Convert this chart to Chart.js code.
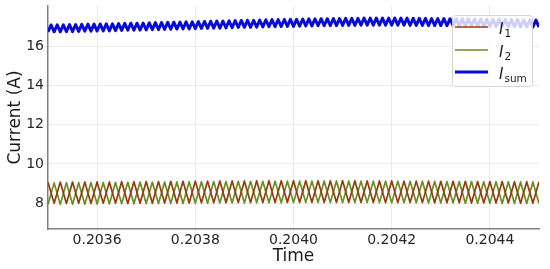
<!DOCTYPE html>
<html>
<head>
<meta charset="utf-8">
<script src="https://cdn.jsdelivr.net/npm/chart.js@4"></script>
<style>
  body { margin: 0; background: #fff; }
</style>
</head>
<body>
<canvas id="myChart" width="550" height="269"></canvas>
<script>
// time axis: seconds = t0 + microseconds * 1e-6
const t0 = 0.2035;
const xTicks = [0.2036, 0.2038, 0.2040, 0.2042, 0.2044];
const yTicks = [8, 10, 12, 14, 16];

// vertices of the phase currents (every 12.5 us)
const tPhaseUs = [
  0, 12.5, 25, 37.5, 50, 62.5, 75, 87.5,
  100, 112.5, 125, 137.5, 150, 162.5, 175, 187.5,
  200, 212.5, 225, 237.5, 250, 262.5, 275, 287.5,
  300, 312.5, 325, 337.5, 350, 362.5, 375, 387.5,
  400, 412.5, 425, 437.5, 450, 462.5, 475, 487.5,
  500, 512.5, 525, 537.5, 550, 562.5, 575, 587.5,
  600, 612.5, 625, 637.5, 650, 662.5, 675, 687.5,
  700, 712.5, 725, 737.5, 750, 762.5, 775, 787.5,
  800, 812.5, 825, 837.5, 850, 862.5, 875, 887.5,
  900, 912.5, 925, 937.5, 950, 962.5, 975, 987.5,
  1000
];
const i1 = [
  9.06, 7.99, 9.07, 7.98, 9.07, 7.99, 9.08, 7.98,
  9.08, 7.99, 9.08, 7.99, 9.09, 7.98, 9.09, 7.99,
  9.10, 7.99, 9.10, 8.00, 9.11, 8.00, 9.11, 8.00,
  9.12, 8.01, 9.12, 8.01, 9.13, 8.01, 9.13, 8.02,
  9.13, 8.02, 9.14, 8.02, 9.14, 8.02, 9.14, 8.03,
  9.14, 8.03, 9.14, 8.03, 9.14, 8.03, 9.14, 8.03,
  9.14, 8.03, 9.14, 8.03, 9.13, 8.03, 9.13, 8.02,
  9.13, 8.02, 9.12, 8.02, 9.12, 8.02, 9.12, 8.01,
  9.11, 8.01, 9.11, 8.01, 9.11, 8.00, 9.10, 8.00,
  9.10, 8.00, 9.10, 8.00, 9.09, 7.99, 9.09, 7.99,
  9.09
];
const i2 = [
  7.93, 9.03, 7.93, 9.04, 7.94, 9.04, 7.94, 9.05,
  7.95, 9.05, 7.95, 9.06, 7.96, 9.06, 7.96, 9.07,
  7.97, 9.07, 7.97, 9.08, 7.98, 9.08, 7.98, 9.09,
  7.99, 9.09, 7.99, 9.10, 8.00, 9.10, 8.00, 9.11,
  8.00, 9.11, 8.01, 9.11, 8.01, 9.12, 8.01, 9.12,
  8.02, 9.12, 8.02, 9.12, 8.02, 9.13, 8.02, 9.13,
  8.02, 9.13, 8.02, 9.12, 8.02, 9.12, 8.02, 9.12,
  8.01, 9.12, 8.01, 9.11, 8.01, 9.11, 8.00, 9.11,
  8.00, 9.10, 8.00, 9.10, 7.99, 9.10, 7.99, 9.09,
  7.99, 9.09, 7.98, 9.09, 7.98, 9.08, 7.98, 9.08,
  7.97
];

// vertices of the summed current (every 6.25 us)
const tSumUs = [
  0, 6.25, 12.5, 18.75, 25, 31.25, 37.5, 43.75, 50, 56.25, 62.5, 68.75, 75, 81.25, 87.5, 93.75,
  100, 106.25, 112.5, 118.75, 125, 131.25, 137.5, 143.75, 150, 156.25, 162.5, 168.75, 175, 181.25, 187.5, 193.75,
  200, 206.25, 212.5, 218.75, 225, 231.25, 237.5, 243.75, 250, 256.25, 262.5, 268.75, 275, 281.25, 287.5, 293.75,
  300, 306.25, 312.5, 318.75, 325, 331.25, 337.5, 343.75, 350, 356.25, 362.5, 368.75, 375, 381.25, 387.5, 393.75,
  400, 406.25, 412.5, 418.75, 425, 431.25, 437.5, 443.75, 450, 456.25, 462.5, 468.75, 475, 481.25, 487.5, 493.75,
  500, 506.25, 512.5, 518.75, 525, 531.25, 537.5, 543.75, 550, 556.25, 562.5, 568.75, 575, 581.25, 587.5, 593.75,
  600, 606.25, 612.5, 618.75, 625, 631.25, 637.5, 643.75, 650, 656.25, 662.5, 668.75, 675, 681.25, 687.5, 693.75,
  700, 706.25, 712.5, 718.75, 725, 731.25, 737.5, 743.75, 750, 756.25, 762.5, 768.75, 775, 781.25, 787.5, 793.75,
  800, 806.25, 812.5, 818.75, 825, 831.25, 837.5, 843.75, 850, 856.25, 862.5, 868.75, 875, 881.25, 887.5, 893.75,
  900, 906.25, 912.5, 918.75, 925, 931.25, 937.5, 943.75, 950, 956.25, 962.5, 968.75, 975, 981.25, 987.5, 993.75,
  1000
];
const iSum = [
  16.75, 17.11, 16.76, 17.12, 16.76, 17.12, 16.77, 17.13, 16.77, 17.13, 16.78, 17.14, 16.79, 17.15, 16.79, 17.15,
  16.80, 17.16, 16.81, 17.17, 16.81, 17.17, 16.82, 17.18, 16.83, 17.19, 16.84, 17.20, 16.84, 17.20, 16.85, 17.21,
  16.86, 17.22, 16.87, 17.23, 16.87, 17.23, 16.88, 17.24, 16.89, 17.25, 16.90, 17.26, 16.91, 17.27, 16.91, 17.27,
  16.92, 17.28, 16.93, 17.29, 16.94, 17.30, 16.95, 17.31, 16.95, 17.31, 16.96, 17.32, 16.97, 17.33, 16.98, 17.34,
  16.99, 17.35, 16.99, 17.35, 17.00, 17.36, 17.01, 17.37, 17.02, 17.38, 17.02, 17.38, 17.03, 17.39, 17.04, 17.40,
  17.04, 17.40, 17.05, 17.41, 17.06, 17.42, 17.06, 17.42, 17.07, 17.43, 17.07, 17.43, 17.08, 17.44, 17.08, 17.44,
  17.09, 17.45, 17.09, 17.45, 17.09, 17.45, 17.10, 17.46, 17.10, 17.46, 17.10, 17.46, 17.10, 17.46, 17.10, 17.46,
  17.10, 17.46, 17.10, 17.46, 17.10, 17.46, 17.09, 17.45, 17.09, 17.45, 17.09, 17.45, 17.08, 17.44, 17.08, 17.44,
  17.08, 17.44, 17.07, 17.43, 17.07, 17.43, 17.06, 17.42, 17.06, 17.42, 17.05, 17.41, 17.05, 17.41, 17.04, 17.40,
  17.04, 17.40, 17.03, 17.39, 17.03, 17.39, 17.02, 17.38, 17.02, 17.38, 17.01, 17.37, 17.01, 17.37, 17.00, 17.36,
  17.00
];

const seriesNames = ['1', '2', 'sum'];
const seriesColors = ['#943c10', '#6b8e23', '#0a0ad6'];
const seriesWidths = [1.7, 1.7, 3];

function toPoints(us, vals) {
  return us.map((u, i) => ({ x: t0 + u * 1e-6, y: vals[i] }));
}

Chart.defaults.font.family = 'DejaVu Sans';
Chart.defaults.color = '#262626';

// legend drawn on top of the lines with a translucent white box
const overLegend = {
  id: 'overLegend',
  afterDatasetsDraw(chart) {
    const ctx = chart.ctx;
    const bx = 452, by = 15, bw = 80, bh = 71;
    ctx.save();
    ctx.beginPath();
    ctx.roundRect(bx + 0.5, by + 0.5, bw, bh, 3);
    ctx.fillStyle = 'rgba(255,255,255,0.8)';
    ctx.fill();
    ctx.strokeStyle = 'rgba(210,210,210,0.9)';
    ctx.lineWidth = 1;
    ctx.stroke();
    const rowsY = [27, 50, 72];
    for (let i = 0; i < 3; i++) {
      const y = rowsY[i];
      ctx.beginPath();
      ctx.moveTo(455, y);
      ctx.lineTo(488, y);
      ctx.strokeStyle = seriesColors[i];
      ctx.lineWidth = seriesWidths[i];
      ctx.stroke();
      ctx.fillStyle = '#1a1a1a';
      ctx.textBaseline = 'alphabetic';
      ctx.font = 'italic 15px "DejaVu Sans"';
      ctx.fillText('I', 499, y + 6.5);
      const w = ctx.measureText('I').width;
      ctx.font = '10.5px "DejaVu Sans"';
      ctx.fillText(seriesNames[i], 499 + w + 1, y + 10);
    }
    ctx.restore();
  }
};

const chartContext = document.getElementById('myChart').getContext('2d');
const myChart = new Chart(chartContext, {
  type: 'line',
  data: {
    datasets: [
      { label: 'I1', data: toPoints(tPhaseUs, i1), borderColor: seriesColors[0], borderWidth: seriesWidths[0] },
      { label: 'I2', data: toPoints(tPhaseUs, i2), borderColor: seriesColors[1], borderWidth: seriesWidths[1] },
      { label: 'Isum', data: toPoints(tSumUs, iSum), borderColor: seriesColors[2], borderWidth: seriesWidths[2] }
    ]
  },
  options: {
    responsive: false,
    animation: false,
    elements: {
      point: { radius: 0 },
      line: { tension: 0, borderJoinStyle: 'round', borderCapStyle: 'butt' }
    },
    layout: { padding: { top: 6, right: 11, left: 0, bottom: 0 } },
    plugins: {
      legend: { display: false },
      tooltip: { enabled: false }
    },
    scales: {
      x: {
        type: 'linear',
        min: 0.2035,
        max: 0.2045,
        afterBuildTicks: (s) => { s.ticks = xTicks.map(v => ({ value: v })); },
        afterFit: (s) => { s.height = 40; s.paddingLeft = 0; s.paddingRight = 0; },
        ticks: {
          autoSkip: false,
          maxRotation: 0,
          padding: -1,
          font: { size: 14 },
          color: '#262626',
          callback: (v) => Number(v).toFixed(4)
        },
        grid: { color: '#ebebeb', lineWidth: 1, tickLength: 4 },
        border: { color: '#808080', width: 1.5 },
        title: {
          display: true,
          text: 'Time',
          font: { size: 17 },
          color: '#1a1a1a',
          padding: { top: 0, bottom: 2 }
        }
      },
      y: {
        min: 6.67,
        max: 18.08,
        afterBuildTicks: (s) => { s.ticks = yTicks.map(v => ({ value: v })); },
        afterFit: (s) => { s.width = 48; s.paddingTop = 0; s.paddingBottom = 0; },
        ticks: {
          padding: 0,
          font: { size: 14 },
          color: '#262626'
        },
        grid: { color: '#ebebeb', lineWidth: 1, tickLength: 4 },
        border: { color: '#808080', width: 1.5 },
        title: {
          display: true,
          text: 'Current (A)',
          font: { size: 17 },
          color: '#1a1a1a',
          padding: { top: 5, bottom: 0 }
        }
      }
    }
  },
  plugins: [overLegend]
});
</script>
</body>
</html>
